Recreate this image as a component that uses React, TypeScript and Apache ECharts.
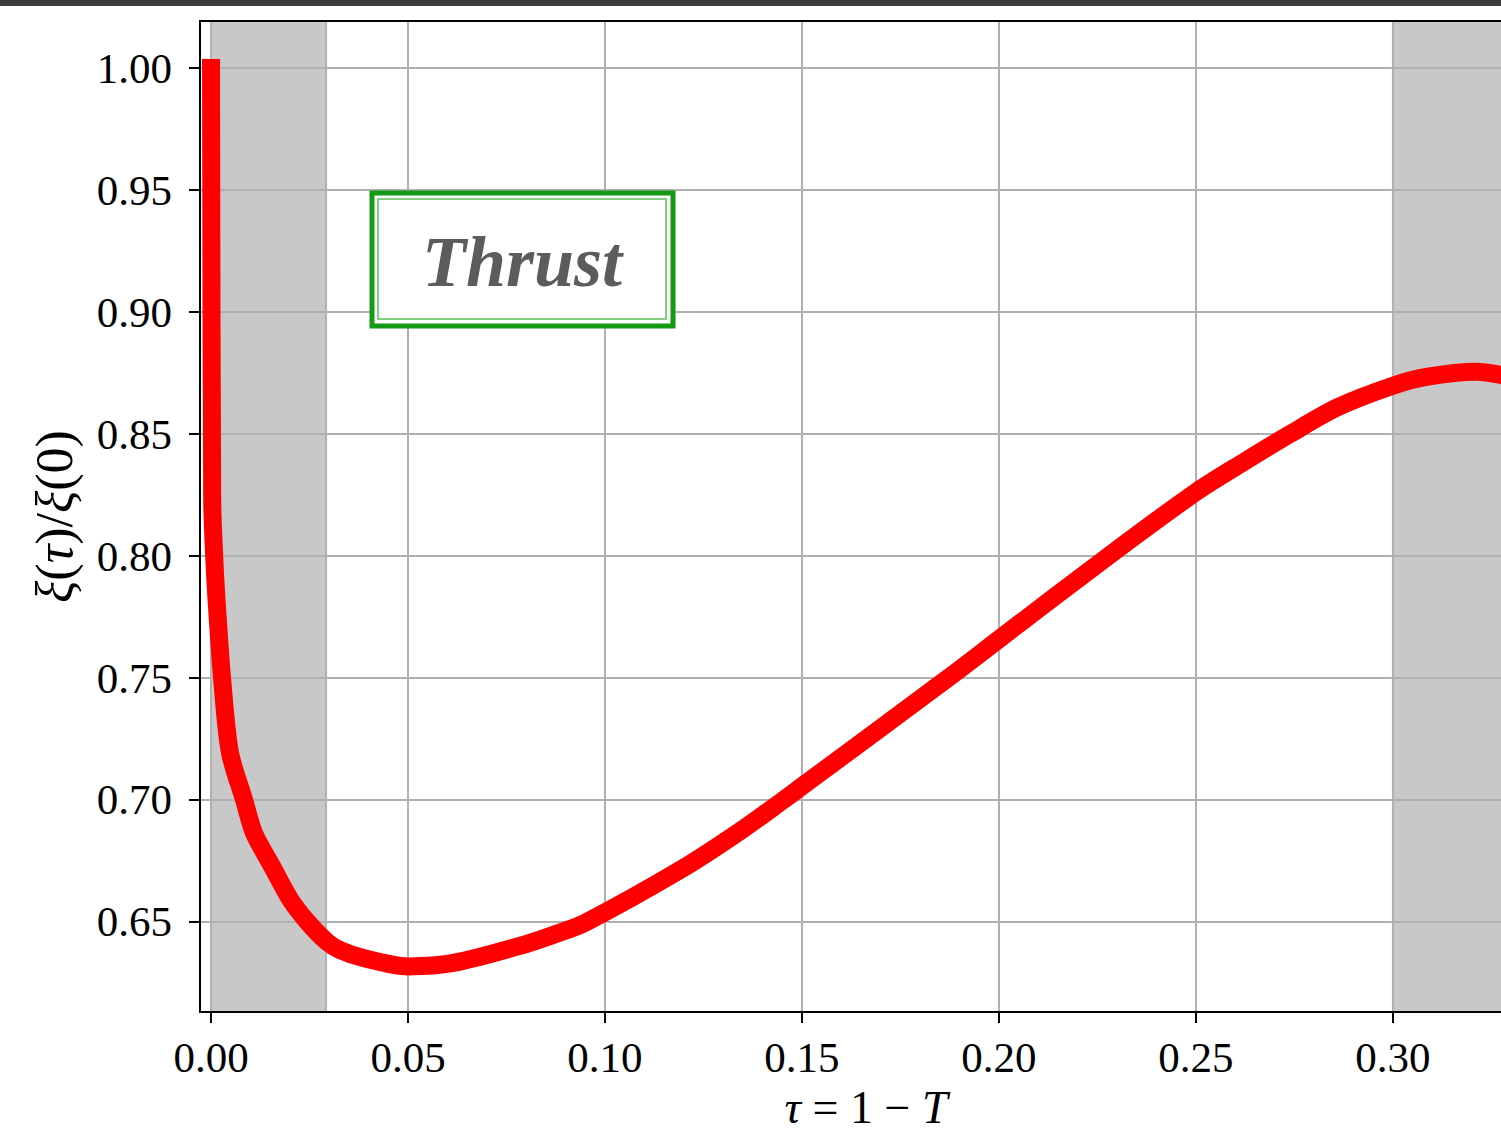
import React, { useEffect, useRef } from "react";
import * as echarts from "echarts";

// ---- data ----
const tauValues = [
  0, 0.0003, 0.0008, 0.0014, 0.0028, 0.0048, 0.0084, 0.0109, 0.0157, 0.0202,
  0.0245, 0.0294, 0.0327, 0.0387, 0.05, 0.0615, 0.0784, 0.087, 0.095, 0.12,
  0.135, 0.1453, 0.15, 0.1871, 0.2, 0.2282, 0.25, 0.262, 0.2739, 0.286,
  0.3, 0.3085, 0.3212, 0.3274,
];
const xiValues = [
  1.0, 0.823, 0.8, 0.782, 0.75, 0.7195, 0.7, 0.6865, 0.6722, 0.659,
  0.65, 0.6419, 0.6385, 0.6352, 0.6318, 0.6332, 0.6402, 0.6448, 0.6497, 0.6722,
  0.688, 0.7, 0.7056, 0.75, 0.7659, 0.8005, 0.8262, 0.8384, 0.85, 0.861,
  0.8698, 0.8734, 0.8755, 0.8742,
];
const xTicks = [0, 0.05, 0.1, 0.15, 0.2, 0.25, 0.3];
const yTicks = [0.65, 0.7, 0.75, 0.8, 0.85, 0.9, 0.95, 1.0];
const shadedStarts = [0, 0.3];
const shadedEnds = [0.0292, 0.3353];
const annotationText = "Thrust";

const X_MIN = -0.0028;
const X_MAX = 0.3353;
const Y_MIN = 0.6131;
const Y_MAX = 1.0193;

const SERIF = '"Liberation Serif", "DejaVu Serif", serif';

export default function App() {
  const ref = useRef<HTMLDivElement>(null);

  useEffect(() => {
    if (!ref.current) return;
    const chart = echarts.init(ref.current, null, { renderer: "svg" });

    const lineData = tauValues.map((t, i) => [t, xiValues[i]]);
    const areas = shadedStarts.map((s, i) => [
      { xAxis: s },
      { xAxis: shadedEnds[i] },
    ]);

    const option: any = {
      animation: false,
      backgroundColor: "#ffffff",
      grid: {
        left: 200,
        top: 21,
        width: 1332,
        height: 991,
        outerBoundsMode: "none",
        containLabel: false,
      },
      xAxis: {
        type: "value",
        min: X_MIN,
        max: X_MAX,
        z: 2,
        name: "{i|τ} = 1 − {i|T}",
        nameLocation: "middle",
        nameGap: 72,
        nameTextStyle: {
          fontFamily: SERIF,
          fontSize: 46,
          lineHeight: 46,
          color: "#000",
          rich: {
            i: { fontFamily: SERIF, fontSize: 46, lineHeight: 46, fontStyle: "italic", color: "#000" },
          },
        },
        axisLine: { show: true, onZero: false, lineStyle: { color: "#000", width: 2 } },
        axisTick: {
          show: true,
          length: 11,
          inside: false,
          customValues: xTicks,
          lineStyle: { color: "#000", width: 2 },
        },
        axisLabel: {
          show: true,
          customValues: xTicks,
          formatter: (v: number) => v.toFixed(2),
          fontFamily: SERIF,
          fontSize: 43,
          color: "#000",
          margin: 24,
        },
        splitLine: { show: true, lineStyle: { color: "#b0b0b0", width: 2 } },
      },
      yAxis: {
        type: "value",
        min: Y_MIN,
        max: Y_MAX,
        z: 2,
        name: "{i|ξ}({i|τ})/{i|ξ}(0)",
        nameLocation: "middle",
        nameGap: 120,
        nameRotate: 90,
        nameTextStyle: {
          fontFamily: SERIF,
          fontSize: 52,
          color: "#000",
          rich: {
            i: { fontFamily: SERIF, fontSize: 52, fontStyle: "italic", color: "#000" },
          },
        },
        axisLine: { show: true, onZero: false, lineStyle: { color: "#000", width: 2 } },
        axisTick: {
          show: true,
          length: 11,
          inside: false,
          customValues: yTicks,
          lineStyle: { color: "#000", width: 2 },
        },
        axisLabel: {
          show: true,
          customValues: yTicks,
          formatter: (v: number) => v.toFixed(2),
          fontFamily: SERIF,
          fontSize: 43,
          color: "#000",
          margin: 28,
        },
        splitLine: { show: true, lineStyle: { color: "#b0b0b0", width: 2 } },
      },
      series: [
        {
          type: "line",
          name: "shade",
          data: [],
          z: 1,
          silent: true,
          markArea: {
            silent: true,
            itemStyle: { color: "#c8c8c8", borderColor: "#b0b0b0", borderWidth: 2 },
            data: areas,
          },
        },
        {
          type: "line",
          name: "xi",
          data: lineData,
          z: 3,
          showSymbol: false,
          smooth: 0.3,
          lineStyle: { color: "#ff0000", width: 18, cap: "square", join: "round" },
          itemStyle: { color: "#ff0000" },
        },
      ],
      graphic: [
        {
          type: "rect",
          z: 100,
          shape: { x: 0, y: 0, width: 1501, height: 6 },
          style: { fill: "#3d3d3d" },
        },
        {
          type: "line",
          z: 100,
          shape: { x1: 199, y1: 21, x2: 1501, y2: 21 },
          style: { stroke: "#000", lineWidth: 2 },
        },
        {
          type: "rect",
          z: 100,
          shape: { x: 372, y: 193, width: 301, height: 133 },
          style: { fill: "#ffffff", stroke: "#149a14", lineWidth: 5 },
        },
        {
          type: "rect",
          z: 101,
          shape: { x: 378, y: 199, width: 288, height: 120 },
          style: { fill: "none", stroke: "#5cbf5c", lineWidth: 1.5 },
        },
        {
          type: "text",
          z: 102,
          style: {
            text: annotationText,
            x: 522,
            y: 262,
            align: "center",
            verticalAlign: "middle",
            fontFamily: SERIF,
            fontStyle: "italic",
            fontWeight: "bold",
            fontSize: 72,
            fill: "#5c5c5c",
          },
        },
      ],
    };

    chart.setOption(option);
    return () => chart.dispose();
  }, []);

  return (
    <div
      ref={ref}
      style={{ position: "fixed", left: 0, top: 0, width: 1501, height: 1135, overflow: "hidden" }}
    />
  );
}
